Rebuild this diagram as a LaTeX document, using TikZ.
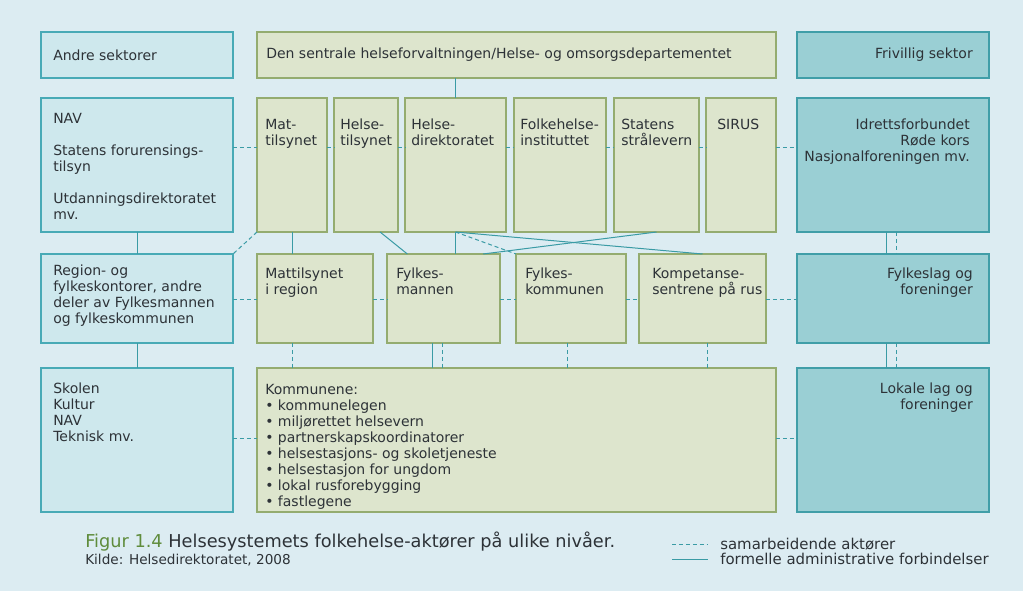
\documentclass[tikz,border=0pt]{standalone}
\usepackage{fontspec}
\setmainfont{DejaVu Sans}
\usetikzlibrary{calc}

\definecolor{bgc}{RGB}{220,236,242}
\definecolor{leftfill}{RGB}{206,232,237}
\definecolor{leftdraw}{RGB}{72,170,182}
\definecolor{govfill}{RGB}{221,229,205}
\definecolor{govdraw}{RGB}{148,172,112}
\definecolor{volfill}{RGB}{154,207,212}
\definecolor{voldraw}{RGB}{64,158,168}
\definecolor{linkc}{RGB}{58,155,165}
\definecolor{txtc}{RGB}{45,50,55}
\definecolor{figc}{RGB}{95,140,60}

\tikzset{
  box/.style={rectangle, inner sep=0pt, outer sep=0pt, line width=0.9pt},
  leftbox/.style={box, fill=leftfill, draw=leftdraw},
  govbox/.style={box, fill=govfill, draw=govdraw},
  volbox/.style={box, fill=volfill, draw=voldraw},
  boxtext/.style={inner sep=0pt, text=txtc, font=\fontsize{10.5}{12}\selectfont, align=left},
  link/.style={draw=linkc, line width=0.75pt},
  coop/.style={draw=linkc, line width=0.75pt, dash pattern=on 3pt off 2.2pt},
}

% box from (x1,y1) to (x2,y2) in pixels
\newcommand{\mkbox}[6]{%
  \node[#6, anchor=north west, minimum width={(#4-#2)*0.75pt},
        minimum height={(#5-#3)*0.75pt}] (#1) at (#2,#3) {};}

\begin{document}
\begin{tikzpicture}[x=0.75pt, y=-0.75pt]
    \fill[bgc] (0,0) rectangle (1023,591);
    \useasboundingbox (0,0) rectangle (1023,591);

    % === Row 1 ===
    \mkbox{andre}{41}{32}{233}{78}{leftbox}
    \mkbox{dept}{257}{32}{776}{78}{govbox}
    \mkbox{frv}{797}{32}{989}{78}{volbox}
    \node[boxtext, anchor=west] (andreT) at (53,55) {Andre sektorer};
    \node[boxtext, anchor=west] (deptT) at (266,55) {Den sentrale helseforvaltningen/Helse- og omsorgsdepartementet};
    \node[boxtext, anchor=east] (frvT) at (973,55) {Frivillig sektor};

    % === Row 2: central agencies ===
    \mkbox{nav}{41}{98}{233}{232}{leftbox}
    \mkbox{mat}{257}{98}{327}{232}{govbox}
    \mkbox{htil}{334}{98}{398}{232}{govbox}
    \mkbox{hdir}{405}{98}{506}{232}{govbox}
    \mkbox{fhi}{514}{98}{606}{232}{govbox}
    \mkbox{str}{614}{98}{699}{232}{govbox}
    \mkbox{sirus}{706}{98}{776}{232}{govbox}
    \mkbox{idr}{797}{98}{989}{232}{volbox}
    \node[boxtext, anchor=north west] (navT) at (53,113) {NAV\\[12pt]Statens forurensings-\\tilsyn\\[12pt]Utdanningsdirektoratet\\mv.};
    \node[boxtext, anchor=north west] (matT) at (265,119) {Mat-\\tilsynet};
    \node[boxtext, anchor=north west] (htilT) at (340,119) {Helse-\\tilsynet};
    \node[boxtext, anchor=north west] (hdirT) at (411,119) {Helse-\\direktoratet};
    \node[boxtext, anchor=north west] (fhiT) at (520,119) {Folkehelse-\\instituttet};
    \node[boxtext, anchor=north west] (strT) at (621,119) {Statens\\strålevern};
    \node[boxtext, anchor=north west] (sirusT) at (717,119) {SIRUS};
    \node[boxtext, anchor=north east, align=right] (idrT) at (970,119) {Idrettsforbundet\\Røde kors\\Nasjonalforeningen mv.};

    % === Row 3: regional level ===
    \mkbox{reg}{41}{254}{233}{343}{leftbox}
    \mkbox{matreg}{257}{254}{373}{343}{govbox}
    \mkbox{fm}{387}{254}{500}{343}{govbox}
    \mkbox{fk}{516}{254}{626}{343}{govbox}
    \mkbox{komp}{639}{254}{766}{343}{govbox}
    \mkbox{flag}{797}{254}{989}{343}{volbox}
    \node[boxtext, anchor=north west] (regT) at (53,265) {Region- og\\fylkeskontorer, andre\\deler av Fylkesmannen\\og fylkeskommunen};
    \node[boxtext, anchor=north west] (matregT) at (265,268) {Mattilsynet\\i region};
    \node[boxtext, anchor=north west] (fmT) at (396,268) {Fylkes-\\mannen};
    \node[boxtext, anchor=north west] (fkT) at (525,268) {Fylkes-\\kommunen};
    \node[boxtext, anchor=north west] (kompT) at (652,268) {Kompetanse-\\sentrene på rus};
    \node[boxtext, anchor=north east, align=right] (flagT) at (973,268) {Fylkeslag og\\foreninger};

    % === Row 4: local level ===
    \mkbox{skole}{41}{368}{233}{512}{leftbox}
    \mkbox{kom}{257}{368}{776}{512}{govbox}
    \mkbox{lokal}{797}{368}{989}{512}{volbox}
    \node[boxtext, anchor=north west] (skoleT) at (53,383) {Skolen\\Kultur\\NAV\\Teknisk mv.};
    \node[boxtext, anchor=north west] (komT) at (265,384) {Kommunene:\\• kommunelegen\\• miljørettet helsevern\\• partnerskapskoordinatorer\\• helsestasjons- og skoletjeneste\\• helsestasjon for ungdom\\• lokal rusforebygging\\• fastlegene};
    \node[boxtext, anchor=north east, align=right] (lokalT) at (973,383) {Lokale lag og\\foreninger};

    % === Connectors: horizontal cooperation ===
    \foreach \a/\b in {nav/mat, mat/htil, htil/hdir, hdir/fhi, fhi/str, str/sirus, sirus/idr}
        \draw[coop] ($(\a.north east)+(0,50)$) -- ($(\b.north west)+(0,50)$);
    \foreach \a/\b in {reg/matreg, matreg/fm, fm/fk, fk/komp, komp/flag}
        \draw[coop] ($(\a.north east)+(0,46)$) -- ($(\b.north west)+(0,46)$);
    \foreach \a/\b in {skole/kom, kom/lokal}
        \draw[coop] ($(\a.north east)+(0,70)$) -- ($(\b.north west)+(0,70)$);

    % === Connectors: between levels ===
    \draw[link] (hdir.north |- dept.south) -- (hdir.north);
    \draw[link] (nav.south) -- (reg.north);
    \draw[link] (reg.south) -- (skole.north);
    \draw[coop] (mat.south west) -- (reg.north east);
    \draw[link] (mat.south) -- (mat.south |- matreg.north);
    \draw[link] ($(htil.south west)!0.72!(htil.south east)$) -- ($(fm.north west)!0.18!(fm.north east)$);
    \draw[link] (hdir.south) -- (hdir.south |- fm.north);
    \draw[coop] (hdir.south) -- (fk.north west);
    \draw[link] (hdir.south) -- (komp.north);
    \draw[link] (str.south) -- ($(fm.north west)!0.85!(fm.north east)$);

    \draw[coop] (mat.south |- matreg.south) -- (mat.south |- kom.north);
    \draw[link] ($(fm.south)+(-11.5,0)$) coordinate (fmA) -- (fmA |- kom.north);
    \draw[coop] ($(fm.south)+(-1.5,0)$) coordinate (fmB) -- (fmB |- kom.north);
    \draw[coop] ($(fk.south)+(-4,0)$) coordinate (fkA) -- (fkA |- kom.north);
    \draw[coop] ($(komp.south)+(4.5,0)$) coordinate (kompA) -- (kompA |- kom.north);

    % right column: formal and cooperative links
    \draw[link] ($(idr.south)+(-7,0)$) coordinate (idrA) -- (idrA |- flag.north);
    \draw[coop] ($(idr.south)+(3,0)$) coordinate (idrB) -- (idrB |- flag.north);
    \draw[link] ($(flag.south)+(-7,0)$) coordinate (flagA) -- (flagA |- lokal.north);
    \draw[coop] ($(flag.south)+(3,0)$) coordinate (flagB) -- (flagB |- lokal.north);

    % === Caption ===
    \node[anchor=west, inner sep=0pt, text=txtc, font=\fontsize{13.3}{15}\selectfont] (cap) at (85,542)
        {\textcolor{figc}{Figur 1.4} Helsesystemets folkehelse-aktører på ulike nivåer.};
    \node[anchor=west, inner sep=0pt, text=txtc, font=\fontsize{10.2}{12}\selectfont] (src) at (85,560)
        {Kilde: Helsedirektoratet, 2008};

    % === Legend ===
    \coordinate (coopA) at (672,544);
    \coordinate (coopB) at (708,544);
    \coordinate (linkA) at (672,559);
    \coordinate (linkB) at (708,559);
    \draw[coop] (coopA) -- (coopB);
    \draw[link] (linkA) -- (linkB);
    \node[anchor=west, inner sep=0pt, text=txtc, font=\fontsize{11.2}{13}\selectfont] (coopT) at (720,544) {samarbeidende aktører};
    \node[anchor=west, inner sep=0pt, text=txtc, font=\fontsize{11.2}{13}\selectfont] (linkT) at (720,559) {formelle administrative forbindelser};
\end{tikzpicture}
\end{document}
